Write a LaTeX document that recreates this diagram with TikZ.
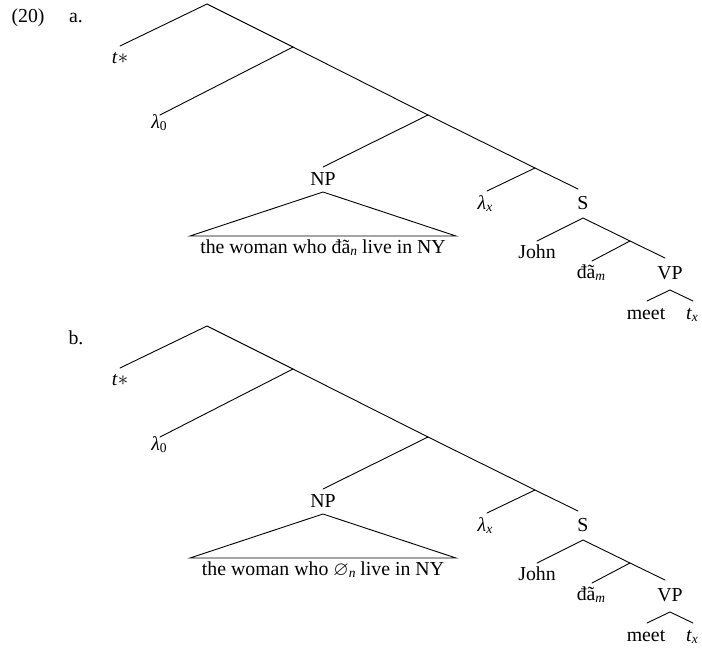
\documentclass[tikz,border=0pt]{standalone}
\usepackage{fontspec}
\setmainfont{Liberation Serif}
\usepackage{amssymb}
\tikzset{
  lab/.style={inner sep=0pt, anchor=base, font=\fontsize{19.8}{22}\selectfont},
  branch/.style={line width=0.9pt, line cap=round},
}
% subscript set a little lower, as in math
\newcommand\lsub[1]{\raisebox{-0.3ex}{\fontsize{13.5}{14}\selectfont #1}}
% one LF tree; #1 = name prefix, #2 = vertical shift, #3 = the relative-clause word
\newcommand\lftree[3]{%
\begin{scope}[yshift=#2]
  % junctions of the spine
  \coordinate (#1r)  at (207,4);
  \coordinate (#1n1) at (293,47);
  \coordinate (#1n2) at (428,115);
  \coordinate (#1n3) at (535,168);
  \coordinate (#1n4) at (630,241);
  % branch ends
  \coordinate (#1te)  at (120,46);
  \coordinate (#1le)  at (160,115);
  \coordinate (#1npe) at (323,167);
  \coordinate (#1lxe) at (487,191);
  \coordinate (#1se)  at (578,189);
  \coordinate (#1st)  at (583,218);
  \coordinate (#1je)  at (537,241);
  \coordinate (#1de)  at (592,261);
  \coordinate (#1vpe) at (665,258);
  \coordinate (#1vpt) at (670,290);
  \coordinate (#1me)  at (647,301);
  \coordinate (#1txe) at (693,301);
  \coordinate (#1apex) at (323,192);
  \coordinate (#1bl) at (190,236);
  \coordinate (#1br) at (456,236);
  % labels
  \node[lab] (#1t)  at (120,63)  {\textit{t}$*$};
  \node[lab] (#1l0) at (159,128) {\textit{λ}\lsub{0}};
  \node[lab] (#1np) at (323,185) {NP};
  \node[lab] (#1rc) at (323,253) {the woman who #3 live in NY};
  \node[lab] (#1lx) at (485,209) {\textit{λ}\lsub{\textit{x}}};
  \node[lab] (#1s)  at (583,209) {S};
  \node[lab] (#1j)  at (537,258) {John};
  \node[lab] (#1d)  at (591,278) {đã\lsub{\textit{m}}};
  \node[lab] (#1vp) at (670,279) {VP};
  \node[lab] (#1m)  at (646,319) {meet};
  \node[lab] (#1tx) at (692,319) {\textit{t}\lsub{\textit{x}}};
  % branches
  \draw[branch] (#1te) -- (#1r) -- (#1n1) -- (#1n2) -- (#1n3) -- (#1se);
  \draw[branch] (#1n1) -- (#1le);
  \draw[branch] (#1n2) -- (#1npe);
  \draw[branch] (#1n3) -- (#1lxe);
  \draw[branch] (#1je) -- (#1st) -- (#1n4) -- (#1vpe);
  \draw[branch] (#1n4) -- (#1de);
  \draw[branch] (#1me) -- (#1vpt) -- (#1txe);
  \draw[branch, line join=miter] (#1apex) -- (#1bl) -- (#1br) -- cycle;
\end{scope}}
\begin{document}
\begin{tikzpicture}[x=1pt,y=-1pt]
  \useasboundingbox (0,0) rectangle (702,648);
  \node[lab] (exnum) at (28,22) {(20)};
  \node[lab] (ia) at (76,22) {a.};
  \node[lab] (ib) at (76,344) {b.};
  \lftree{a}{0pt}{đã\lsub{\textit{n}}}
  \lftree{b}{-322pt}{$\varnothing$\lsub{\textit{n}}}
\end{tikzpicture}
\end{document}
